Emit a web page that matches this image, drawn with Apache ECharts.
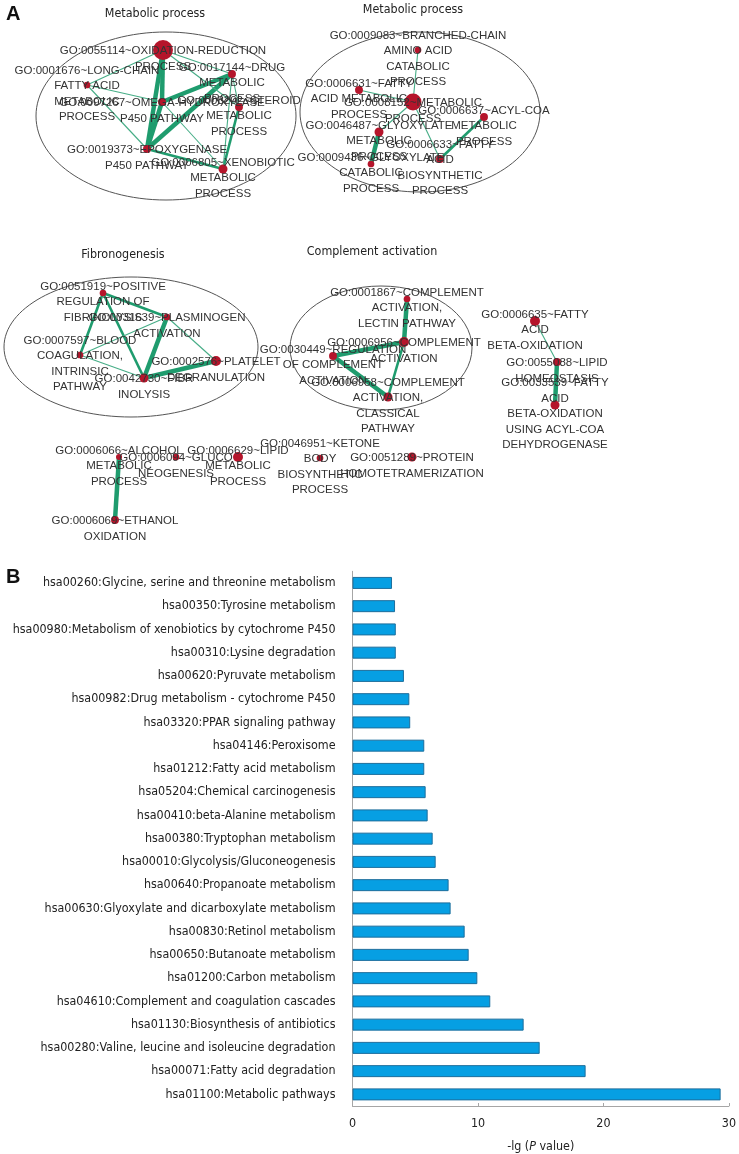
<!DOCTYPE html>
<html><head><meta charset="utf-8">
<script src="https://cdn.jsdelivr.net/npm/echarts@6/dist/echarts.min.js"></script>
<style>html,body{margin:0;padding:0;background:#fff}#c{width:739px;height:1154px}</style>
</head><body><div id="c"></div>
<script>
// ---------- Panel A: enrichment map (layout coordinates in map units) ----------
const nodeLabels = [
 'GO:0055114~OXIDATION-REDUCTION\nPROCESS','GO:0017144~DRUG\nMETABOLIC\nPROCESS','GO:0001676~LONG-CHAIN\nFATTY ACID\nMETABOLIC\nPROCESS',
 'GO:0008202~STEROID\nMETABOLIC\nPROCESS','GO:0097267~OMEGA-HYDROXYLASE\nP450 PATHWAY','GO:0019373~EPOXYGENASE\nP450 PATHWAY',
 'GO:0006805~XENOBIOTIC\nMETABOLIC\nPROCESS',
 'GO:0009083~BRANCHED-CHAIN\nAMINO ACID\nCATABOLIC\nPROCESS','GO:0006631~FATTY\nACID METABOLIC\nPROCESS','GO:0008152~METABOLIC\nPROCESS',
 'GO:0006637~ACYL-COA\nMETABOLIC\nPROCESS','GO:0046487~GLYOXYLATE\nMETABOLIC\nPROCESS','GO:0009436~GLYOXYLATE\nCATABOLIC\nPROCESS',
 'GO:0006633~FATTY\nACID\nBIOSYNTHETIC\nPROCESS',
 'GO:0051919~POSITIVE\nREGULATION OF\nFIBRINOLYSIS','GO:0031639~PLASMINOGEN\nACTIVATION','GO:0007597~BLOOD\nCOAGULATION,\nINTRINSIC\nPATHWAY',
 'GO:0042730~FIBR\nINOLYSIS','GO:0002576~PLATELET\nDEGRANULATION',
 'GO:0001867~COMPLEMENT\nACTIVATION,\nLECTIN PATHWAY','GO:0006956~COMPLEMENT\nACTIVATION','GO:0030449~REGULATION\nOF COMPLEMENT\nACTIVATION',
 'GO:0006958~COMPLEMENT\nACTIVATION,\nCLASSICAL\nPATHWAY',
 'GO:0006635~FATTY\nACID\nBETA-OXIDATION','GO:0055088~LIPID\nHOMEOSTASIS','GO:0033539~FATTY\nACID\nBETA-OXIDATION\nUSING ACYL-COA\nDEHYDROGENASE',
 'GO:0006066~ALCOHOL\nMETABOLIC\nPROCESS','GO:0006094~GLUCO\nNEOGENESIS','GO:0006629~LIPID\nMETABOLIC\nPROCESS',
 'GO:0046951~KETONE\nBODY\nBIOSYNTHETIC\nPROCESS','GO:0051289~PROTEIN\nHOMOTETRAMERIZATION','GO:0006069~ETHANOL\nOXIDATION'
];
const nodeX = [163,232,87,239,162,147,223, 418,359,413,484,379,371,440, 103,167,80,144,216, 407,404,333,388, 535,557,555, 119,176,238,320,412,115];
const nodeY = [50,74,85,107,102,149,169, 50,90,102,117,132,164,159, 293,317,355,378,361, 299,342,356,397, 321,362,405, 457,457,457,458,457,520];
const geneCounts = [44,7,5,7,7,7,9, 5,7,32,7,9,5,7, 5,5,5,9,11, 5,11,7,9, 11,7,9, 4,5,11,5,9,7];
// edges: [source, target, similarity]
const edgeSrc = [0,0,4,1,1,0,0,1,3,2,2,2,4,5,1, 7,8,9,11,9,10, 14,14,14,15,15,16,16,17, 19,20,21,20, 23,24,26];
const edgeTgt = [4,5,5,5,4,1,3,3,6,4,5,0,6,6,6, 9,9,11,12,13,13, 15,16,17,17,18,15,17,18, 20,21,22,22, 24,25,31];
const edgeSim = [0.9,0.9,0.9,0.8,0.8,0.3,0.3,0.3,0.5,0.3,0.3,0.3,0.3,0.45,0.3, 0.3,0.3,0.3,0.9,0.3,0.5, 0.6,0.7,0.6,0.8,0.3,0.3,0.3,0.9, 0.8,0.8,0.8,0.5, 0.3,0.9,0.9];
const clusterNames = ['Metabolic process','Metabolic process','Fibronogenesis','Complement activation'];
const clusterCX = [166,420,131,381];
const clusterCY = [116,112,347,348];
const clusterRX = [130,120,127,91];
const clusterRY = [84,80,70,62];
const clusterTitleX = [155,413,123,372];
const clusterTitleY = [14,10,255,252];

// ---------- Panel B: KEGG pathways ----------
const pathways = [
 'hsa00260:Glycine, serine and threonine metabolism','hsa00350:Tyrosine metabolism','hsa00980:Metabolism of xenobiotics by cytochrome P450',
 'hsa00310:Lysine degradation','hsa00620:Pyruvate metabolism','hsa00982:Drug metabolism - cytochrome P450','hsa03320:PPAR signaling pathway',
 'hsa04146:Peroxisome','hsa01212:Fatty acid metabolism','hsa05204:Chemical carcinogenesis','hsa00410:beta-Alanine metabolism',
 'hsa00380:Tryptophan metabolism','hsa00010:Glycolysis/Gluconeogenesis','hsa00640:Propanoate metabolism',
 'hsa00630:Glyoxylate and dicarboxylate metabolism','hsa00830:Retinol metabolism','hsa00650:Butanoate metabolism',
 'hsa01200:Carbon metabolism','hsa04610:Complement and coagulation cascades','hsa01130:Biosynthesis of antibiotics',
 'hsa00280:Valine, leucine and isoleucine degradation','hsa00071:Fatty acid degradation','hsa01100:Metabolic pathways'
];
const negLogP = [3.15,3.39,3.45,3.45,4.1,4.53,4.6,5.72,5.72,5.83,5.99,6.39,6.63,7.66,7.82,8.94,9.26,9.95,10.98,13.64,14.92,18.58,29.34];
const xTicks = [0,10,20,30];

const FONT_B = "'DejaVu Sans Condensed','Liberation Sans',sans-serif";
const FONT_A = "'Liberation Sans',Arial,sans-serif";

const nodes = nodeLabels.map((l,i)=>({name:'n'+i, value:[nodeX[i],nodeY[i]], label:{formatter:l}, symbolSize: 3*Math.sqrt(geneCounts[i])}));
const links = edgeSrc.map((s,i)=>({source:s, target:edgeTgt[i], lineStyle:{width: edgeSim[i]>=0.75?4.5:(edgeSim[i]>=0.45?2.6:1.1), color: edgeSim[i]>=0.45?'#1f9c6e':'#46ad86'}}));

const chart = echarts.init(document.getElementById('c'), null, {renderer:'canvas'});
chart.setOption({
  animation:false,
  backgroundColor:'#fff',
  graphic:[
    {type:'text', left:6, top:4, style:{text:'A', font:"bold 20px 'Liberation Sans',Arial", fill:'#111'}},
    {type:'text', left:6, top:567, style:{text:'B', font:"bold 20px 'Liberation Sans',Arial", fill:'#111'}}
  ],
  grid:[
    {left:0, top:0, width:739, height:560},
    {left:352.5, top:571.3, width:377, height:536.5}
  ],
  xAxis:[
    {gridIndex:0, type:'value', min:0, max:739, show:false},
    {gridIndex:1, type:'value', min:xTicks[0], max:xTicks[xTicks.length-1], interval:10,
     axisLine:{show:true, lineStyle:{color:'#a6a6a6'}}, axisTick:{show:true, length:3, inside:true, lineStyle:{color:'#a6a6a6'}},
     splitLine:{show:false}, axisLabel:{color:'#222', fontFamily:FONT_B, fontSize:12.4, margin:12},
     name:'-lg ({i|P} value)', nameLocation:'middle', nameGap:35,
     nameTextStyle:{color:'#222', fontFamily:FONT_B, fontSize:12.4, rich:{i:{fontStyle:'italic', fontFamily:FONT_B, fontSize:12.4, color:'#222'}}}}
  ],
  yAxis:[
    {gridIndex:0, type:'value', min:0, max:560, inverse:true, show:false},
    {gridIndex:1, type:'category', data:pathways, inverse:true,
     axisLine:{show:true, lineStyle:{color:'#a6a6a6'}}, axisTick:{show:false},
     axisLabel:{color:'#222', fontFamily:FONT_B, fontSize:12.4, margin:17}}
  ],
  series:[
    {type:'custom', xAxisIndex:0, yAxisIndex:0, silent:true, z:1,
     data: clusterCX.map((cx,i)=>[cx, clusterCY[i], clusterRX[i], clusterRY[i]]),
     renderItem:(params, api)=>{
       const p = api.coord([api.value(0), api.value(1)]);
       const s = api.size([api.value(2), api.value(3)]);
       return {type:'ellipse', shape:{cx:p[0], cy:p[1], rx:s[0], ry:s[1]}, style:{fill:null, stroke:'#555', lineWidth:1}};
     }},
    {type:'custom', xAxisIndex:0, yAxisIndex:0, silent:true, z:1,
     data: clusterTitleX.map((x,i)=>[x, clusterTitleY[i]]),
     renderItem:(params, api)=>{
       const p = api.coord([api.value(0), api.value(1)]);
       return {type:'text', x:p[0], y:p[1], style:{text:clusterNames[params.dataIndex], align:'center', verticalAlign:'middle', font:"12.4px "+FONT_B, fill:'#222'}};
     }},
    {type:'graph', coordinateSystem:'cartesian2d', xAxisIndex:0, yAxisIndex:0, z:3,
     data:nodes, links:links, symbol:'circle',
     itemStyle:{color:'#b5152b'},
     lineStyle:{opacity:1, curveness:0},
     label:{show:true, position:'inside', offset:[0,9], color:'#333', fontFamily:FONT_A, fontSize:11.5, lineHeight:15.5, align:'center'},
     emphasis:{disabled:true}},
    {type:'bar', xAxisIndex:1, yAxisIndex:1, data:negLogP, barWidth:12,
     itemStyle:{color:'#069fe3', borderColor:'#1d6e9c', borderWidth:1}}
  ]
});
</script></body></html>
